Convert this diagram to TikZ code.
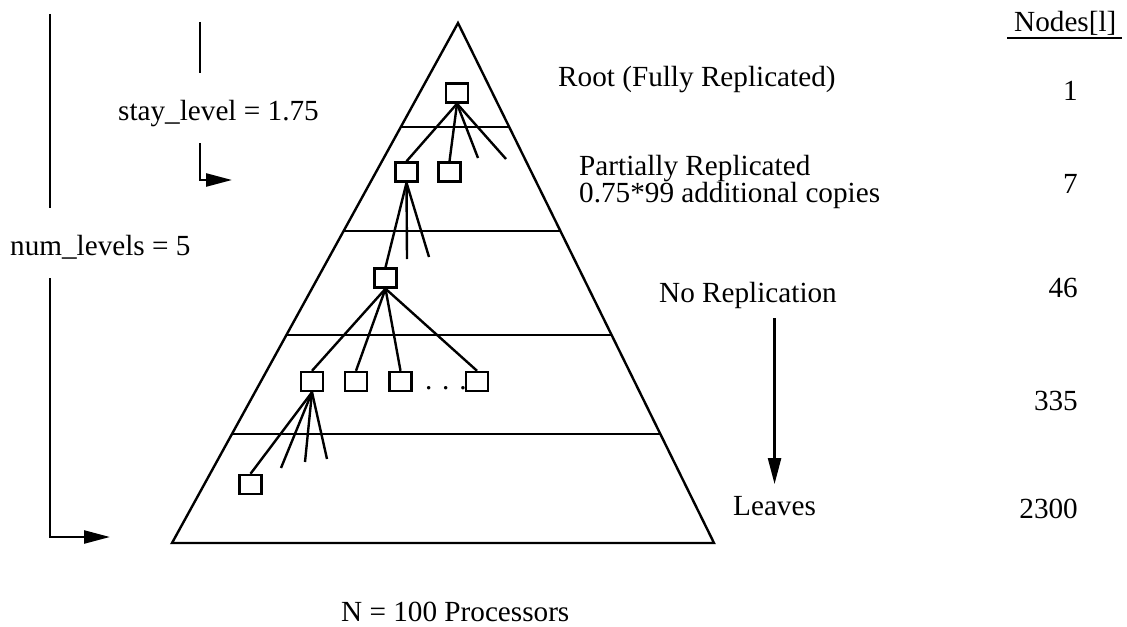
\documentclass[tikz,border=0pt]{standalone}
\usepackage{fontspec}
\setmainfont{Liberation Serif}
\usetikzlibrary{calc,arrows.meta}

\begin{document}
\begin{tikzpicture}[x=0.5pt,y=-0.5pt,>/.tip={Triangle[length=13pt,width=6.5pt]},
    line width=1.2pt,
    proc/.style={draw,minimum width=11pt,minimum height=9.5pt,inner sep=0pt},
    lbl/.style={inner sep=0pt,anchor=base west,font=\fontsize{14.6}{13.5}\selectfont}]
    \useasboundingbox (0,0) rectangle (1127,626);
    % The pyramid and its levels
    \coordinate (apex) at (458,23);
    \coordinate (bl) at (172,543);
    \coordinate (br) at (714,543);
    \draw (bl) -- (apex) -- (br) -- cycle;
    \foreach \t in {0.2,0.4,0.6,0.79}
      \draw ($(apex)!\t!(bl)$) -- ($(apex)!\t!(br)$);
    % The tree
    \node[proc] (root) at (457,93) {};
    \node[proc] (pa) at (406.5,172) {};
    \node[proc] (pb) at (449.5,172) {};
    \node[proc] (pc) at (385.5,278) {};
    \node[proc] (pd) at (312,381.5) {};
    \node[proc] (pe) at (356,381.5) {};
    \node[proc] (pf) at (400.5,381.5) {};
    \node[proc] (pg) at (477,381.5) {};
    \node[proc] (ph) at (250.5,484.5) {};
    \node[lbl] (dots) at (424,389) {. . .};
    \foreach \e in {(pa.north),(pb.north),(478,158),(506,159)}
      \draw (root.south) -- \e;
    \foreach \e in {(pc.north),(407,259),(429,257)}
      \draw (pa.south) -- \e;
    \foreach \e in {(pd.north),(pe.north),(pf.north),(pg.north)}
      \draw (pc.south) -- \e;
    \foreach \e in {(ph.north),(281,468),(305,462),(327,459)}
      \draw (pd.south) -- \e;
    % Labels on the right
    \node[lbl] (rootlbl) at (557,86) {Root (Fully Replicated)};
    \node[lbl] (partlbl) at (578,175) {Partially Replicated};
    \node[lbl] (copylbl) at (578,202) {0.75*99 additional copies};
    \node[lbl] (norep) at (658,302) {No Replication};
    \node[lbl] (leaves) at (732,515) {Leaves};
    \draw[->,shorten <=4.5pt,shorten >=5.3pt] (norep.south -| leaves.north) -- (leaves.north);
    % Nodes per level
    \node[lbl] (hdr) at (1013,32) {Nodes[l]};
    \draw[line width=1pt] (hdr.base west) ++(-6,6) -- ++(115,0);
    \foreach \y/\n in {100/1,193/7,297/46,410/335,518/2300}
      \node[lbl,anchor=base east] (n\n) at (1079,\y) {\n};
    % The level brackets on the left
    \node[lbl] (numlvl) at (9,255) {num\_levels = 5};
    \draw (50,14) -- (50,208);
    \draw[->] (50,278) -- (50,537) -- (110,537);
    \node[lbl] (staylvl) at (117,120) {stay\_level = 1.75};
    \draw (200,22) -- (200,73);
    \draw[->] (200,143) -- (200,180) -- (232,180);
    \node[lbl] (nproc) at (340,621) {N = 100 Processors};
\end{tikzpicture}
\end{document}
